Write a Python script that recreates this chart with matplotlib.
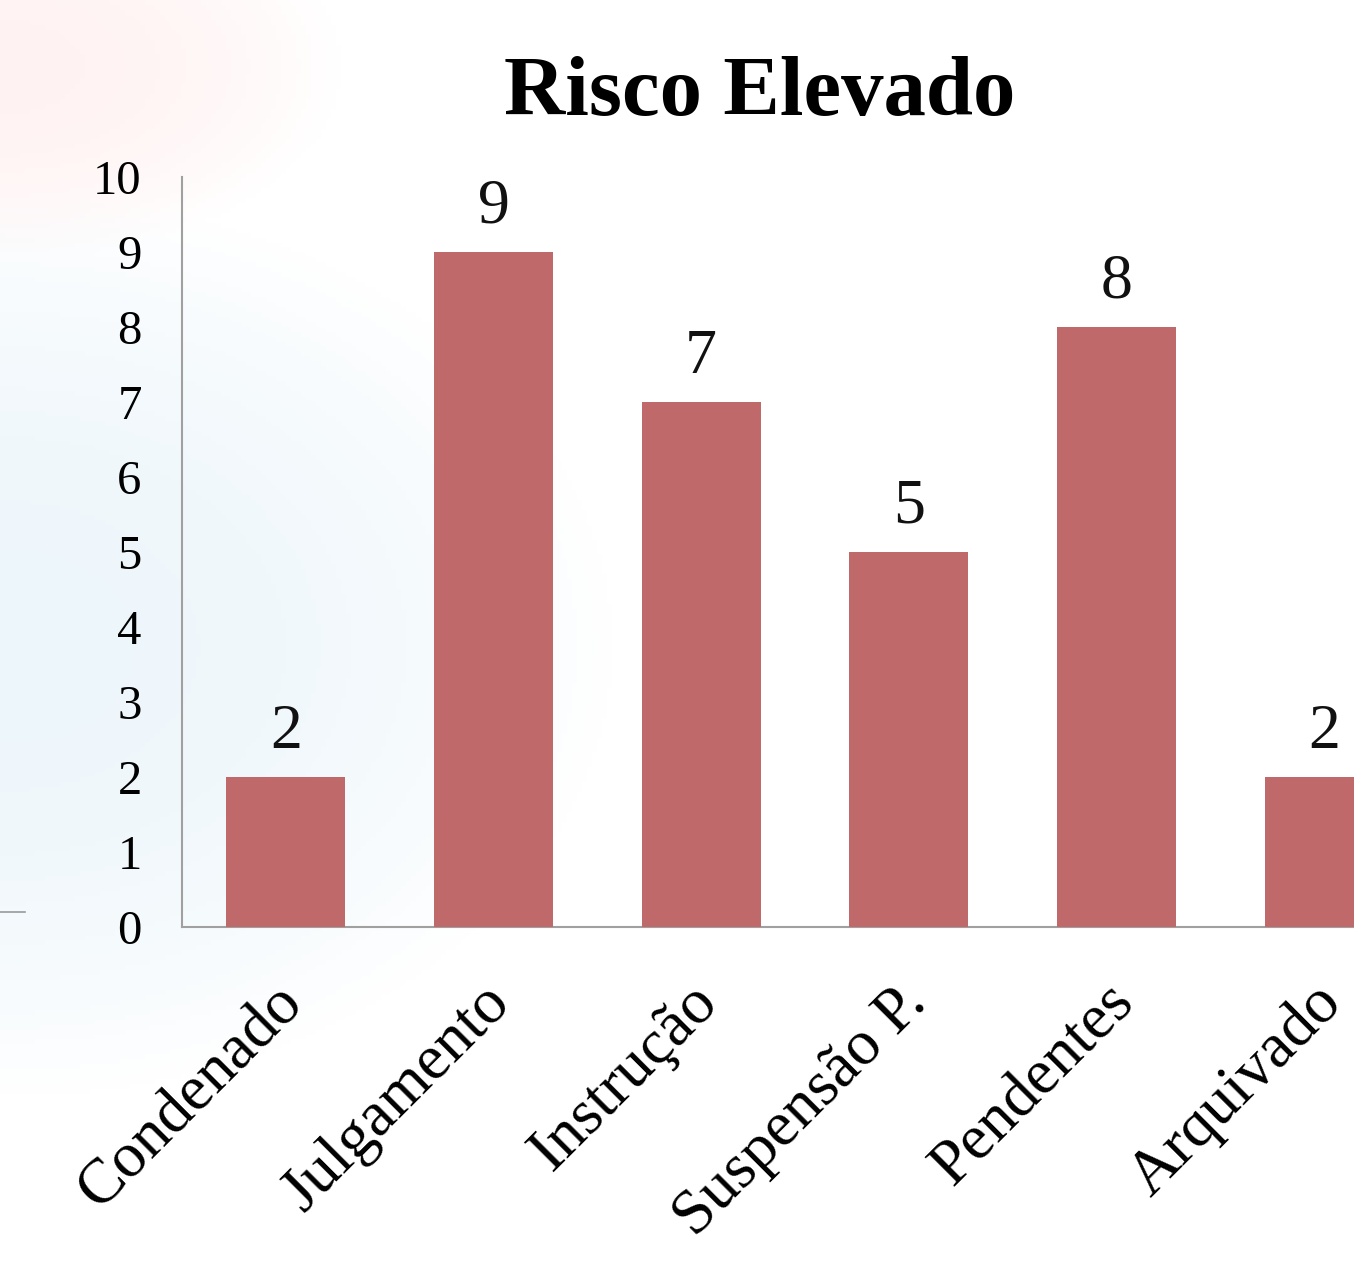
import numpy as np
import matplotlib.pyplot as plt
import matplotlib.transforms as mtransforms
from matplotlib.lines import Line2D

categorias = ['Condenado', 'Julgamento', 'Instrução', 'Suspensão P.', 'Pendentes', 'Arquivado']
valores = [2, 9, 7, 5, 8, 2]
y_ticks = list(range(0, 11))

cor_barra = '#C0696A'
serif = ['Liberation Serif', 'DejaVu Serif']

fig = plt.figure(figsize=(13.54, 12.87), dpi=100)

# faint slide background
bg = fig.add_axes([0, 0, 1, 1], zorder=-10)
h, w = 260, 270
yy, xx = np.mgrid[0:h, 0:w] / np.array([h, w])[:, None, None]
img = np.ones((h, w, 3))
blue = np.clip(1 - ((xx - 0.0) / 0.45) ** 2 - ((yy - 0.5) / 0.35) ** 2, 0, 1)
pink = np.clip(1 - ((xx - 0.0) / 0.25) ** 2 - ((yy - 0.05) / 0.15) ** 2, 0, 1)
img[..., 0] -= 0.07 * blue
img[..., 1] -= 0.035 * blue + 0.05 * pink
img[..., 2] -= 0.015 * blue + 0.05 * pink
bg.imshow(np.clip(img, 0, 1), aspect='auto', extent=[0, 1, 0, 1])
bg.set_axis_off()
fig.add_artist(Line2D([0, 25 / 1354], [1 - 912 / 1287] * 2, color='#9A9A9A', lw=1.2))

ax = fig.add_axes([182 / 1354, 1 - 927 / 1287, 1246 / 1354, 750 / 1287])
ax.set_facecolor('none')
x = np.arange(len(categorias))
bars = ax.bar(x, valores, width=0.574, color=cor_barra, zorder=3)
for b, v in zip(bars, valores):
    ax.annotate(str(v), (b.get_x() + b.get_width() / 2, v), xytext=(0, 11),
                textcoords='offset points', ha='center', va='bottom',
                fontsize=46, family=serif, color='#111111')

ax.set_xlim(-0.5, len(categorias) - 0.5)
ax.set_ylim(0, 10)
ax.set_yticks(y_ticks)
ax.set_yticklabels([str(t) for t in y_ticks], fontsize=35, family=serif)
ax.set_xticks(x)
ax.set_xticklabels(categorias, rotation=45, ha='right', va='top',
                   rotation_mode='anchor', fontsize=46, family=serif)
ax.tick_params(axis='y', length=0, pad=29)
ax.tick_params(axis='x', length=0, pad=32)
shift = mtransforms.ScaledTranslation(-12 / 100, -2 / 100, fig.dpi_scale_trans)
for lab in ax.get_xticklabels():
    lab.set_transform(lab.get_transform() + shift)
for s in ['top', 'right']:
    ax.spines[s].set_visible(False)
for s in ['left', 'bottom']:
    ax.spines[s].set_color('#A0A0A0')
    ax.spines[s].set_linewidth(1.5)

fig.text(760 / 1354, 1 - 94 / 1287, 'Risco Elevado', ha='center', va='center',
         fontsize=61, fontweight='bold', family=serif)

fig.savefig('out.png', dpi=100)
